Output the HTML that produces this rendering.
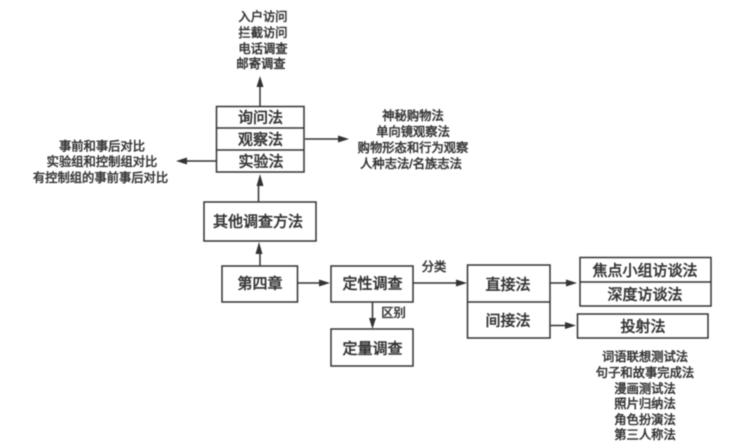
<!DOCTYPE html>
<html><head><meta charset="utf-8"><style>
html,body{margin:0;padding:0;background:#fff;width:751px;height:448px;overflow:hidden}
svg{display:block;filter:blur(.45px)}
text{font-family:"Liberation Sans","Noto Sans CJK SC",sans-serif;fill:#333;text-anchor:middle;dominant-baseline:central;font-weight:400}
.b{font-size:15px;stroke:#333;stroke-width:.55px}
.s{font-size:12.3px;stroke:#333;stroke-width:.5px}
rect{fill:#fff;stroke:#333;stroke-width:1.5}
.l{stroke:#333;stroke-width:1.5;fill:none}
polygon{fill:#333}
</style></head><body>
<svg width="751" height="448" viewBox="0 0 751 448" xmlns="http://www.w3.org/2000/svg">
<path class="l" d="M260 106V85M305 139H340M216 161H186M258.500 202V186Q258.500 184 260 182V178M260 266V248M298 283H322M413 283H458M372.500 302V322M550 283H570M550 325.500H568"/>
<polygon points="260,76 256.500,87 263.500,87"/>
<polygon points="349,139 338,135.500 338,142.500"/>
<polygon points="176,161 187,157.500 187,164.500"/>
<polygon points="260,174 256.500,186 263.500,186"/>
<polygon points="259,242 255.500,254 262.500,254"/>
<polygon points="330,283 319,279.500 319,286.500"/>
<polygon points="467,283 456,279.500 456,286.500"/>
<polygon points="372.500,329 369,318 376,318"/>
<polygon points="577,283 566,279.500 566,286.500"/>
<polygon points="576,325.500 565,322 565,329"/>
<rect x="216.500" y="106.500" width="87.500" height="65.500"/>
<path class="l" d="M216 128H304M216 150H304"/>
<rect x="204" y="202" width="112" height="39"/>
<rect x="222" y="266" width="75.500" height="36"/>
<rect x="331" y="266" width="82" height="36"/>
<rect x="331" y="329" width="82" height="37"/>
<rect x="467.500" y="265" width="82.500" height="73"/>
<path class="l" d="M467 302H550"/>
<rect x="580" y="257.500" width="131" height="48.500"/>
<path class="l" d="M580 282H711"/>
<rect x="577.500" y="314" width="130.500" height="24"/>
<text class="b" x="260.500" y="118">询问法</text>
<text class="b" x="260.500" y="140">观察法</text>
<text class="b" x="261" y="162">实验法</text>
<text class="b" x="258" y="222">其他调查方法</text>
<text class="b" x="260" y="284">第四章</text>
<text class="b" x="372.500" y="284">定性调查</text>
<text class="b" x="372.500" y="349">定量调查</text>
<text class="b" x="508" y="285">直接法</text>
<text class="b" x="508" y="321">间接法</text>
<text class="b" x="645" y="271">焦点小组访谈法</text>
<text class="b" x="645" y="295">深度访谈法</text>
<text class="b" x="643" y="327">投射法</text>
<text class="s" x="434" y="267">分类</text>
<text class="s" x="393.500" y="313">区别</text>
<text class="s" x="263" y="17">入户访问</text>
<text class="s" x="263" y="33">拦截访问</text>
<text class="s" x="263" y="49">电话调查</text>
<text class="s" x="261" y="64">邮寄调查</text>
<text class="s" x="413" y="116">神秘购物法</text>
<text class="s" x="413" y="132">单向镜观察法</text>
<text class="s" x="413" y="148">购物形态和行为观察</text>
<text class="s" x="411" y="164">人种志法/名族志法</text>
<text class="s" x="102" y="146.500">事前和事后对比</text>
<text class="s" x="102" y="162">实验组和控制组对比</text>
<text class="s" x="100.500" y="178">有控制组的事前事后对比</text>
<text class="s" x="645" y="357">词语联想测试法</text>
<text class="s" x="645" y="373">句子和故事完成法</text>
<text class="s" x="645" y="389">漫画测试法</text>
<text class="s" x="645" y="404">照片归纳法</text>
<text class="s" x="645" y="420">角色扮演法</text>
<text class="s" x="645" y="435">第三人称法</text>
</svg>
</body></html>
